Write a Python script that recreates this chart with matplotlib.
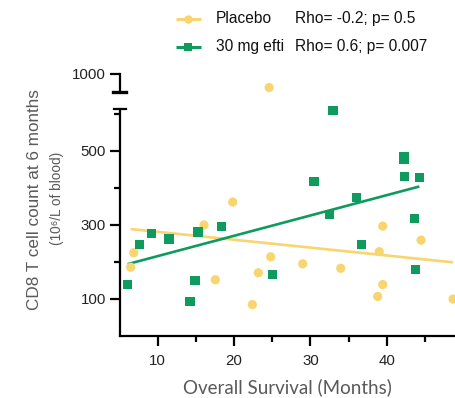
import matplotlib
matplotlib.use("Agg")
import matplotlib.pyplot as plt
from matplotlib.lines import Line2D
from matplotlib.ticker import FixedLocator
import numpy as np

# --- data -------------------------------------------------------------
placebo_months = [6.46, 6.86, 16.07, 17.55, 19.83, 22.4, 23.18, 24.6, 24.8,
                  29.0, 33.98, 38.82, 39.03, 39.48, 39.48, 44.5, 48.7]
placebo_cd8 = [186, 225, 300, 152, 362, 85, 171, 962, 214,
               195, 183, 107, 228, 297, 139, 259, 100]

efti_months = [6.07, 7.59, 9.21, 11.48, 14.23, 14.89, 15.28, 18.38, 25.0,
               30.48, 32.48, 32.97, 36.02, 36.73, 42.27, 42.27, 42.36,
               43.62, 43.75, 44.28]
efti_cd8 = [140, 247, 276, 262, 93, 150, 281, 295, 167,
            418, 328, 610, 374, 248, 484, 476, 431,
            317, 180, 428]

# linear fits (slope, intercept)
placebo_fit = (-2.13, 302.8)
efti_fit = (5.49, 161.0)

group_labels = ["Placebo", "30 mg efti"]
group_stats = ["Rho= -0.2; p= 0.5", "Rho= 0.6; p= 0.007"]

x_major = [10, 20, 30, 40, 50]
x_minor = [15, 25, 35, 45]
y_major_low = [100, 300, 500]
y_minor_low = [200, 400, 600]
y_major_high = [1000]

YELLOW = "#F8D56F"
GREEN = "#0F9A5E"
GRAY = "#595959"
SANS = ["Liberation Sans", "DejaVu Sans"]

W, H = 456, 398
fig = plt.figure(figsize=(W / 100, H / 100), dpi=100)


def fx(px):
    return px / W


def fy(py):
    return 1 - py / H


# lower (main) segment of the broken y axis
ax = fig.add_axes([fx(120), fy(336), (477 - 120) / W, (336 - 109.3) / H])
# upper segment
axt = fig.add_axes([fx(120), fy(92), (477 - 120) / W, (92 - 73.5) / H],
                   sharex=ax)

ax.set_xlim(5.06, 51.83)
ax.set_ylim(0, 612.7)
axt.set_ylim(950, 1000)

SPINE_LW = 1.6
for a in (ax, axt):
    a.set_facecolor("none")
    for s in ("top", "right"):
        a.spines[s].set_visible(False)
    a.spines["left"].set_linewidth(SPINE_LW)
    a.spines["bottom"].set_linewidth(SPINE_LW)
axt.spines["bottom"].set_visible(False)
axt.tick_params(axis="x", which="both", bottom=False, labelbottom=False)

ax.xaxis.set_major_locator(FixedLocator(x_major))
ax.xaxis.set_minor_locator(FixedLocator(x_minor))
ax.yaxis.set_major_locator(FixedLocator(y_major_low))
ax.yaxis.set_minor_locator(FixedLocator(y_minor_low))
axt.yaxis.set_major_locator(FixedLocator(y_major_high))
axt.yaxis.set_minor_locator(FixedLocator([]))

for a in (ax, axt):
    a.tick_params(axis="both", which="major", length=7, width=SPINE_LW,
                  labelsize=10.8, labelcolor="#222222", color="black")
    a.tick_params(axis="both", which="minor", length=4, width=SPINE_LW,
                  color="black")
    a.tick_params(axis="y", which="major", pad=3)
    a.tick_params(axis="x", which="major", pad=6)
    for lab in a.get_xticklabels() + a.get_yticklabels():
        lab.set_family(SANS)

# scatter points (split between the two y segments) and fitted lines
MS = 44
for months, cd8, color, marker, fit in (
        (placebo_months, placebo_cd8, YELLOW, "o", placebo_fit),
        (efti_months, efti_cd8, GREEN, "s", efti_fit)):
    months = np.asarray(months)
    cd8 = np.asarray(cd8)
    low = cd8 < 700
    for target, mask in ((ax, low), (axt, ~low)):
        if mask.any():
            target.scatter(months[mask], cd8[mask], s=MS, marker=marker,
                           color=color, edgecolors="none", clip_on=False,
                           zorder=3)
    xs = np.array([months.min(), months.max()])
    ax.plot(xs, fit[0] * xs + fit[1], color=color, lw=1.9, zorder=2,
            solid_capstyle="butt")

# caps at the axis break
fig.add_artist(Line2D([fx(114), fx(126)], [fy(109.3), fy(109.3)],
                      color="black", lw=1.6))
fig.add_artist(Line2D([fx(113), fx(126)], [fy(92), fy(92)],
                      color="black", lw=2.4))

# axis titles
fig.text(fx(287), fy(387), "Overall Survival (Months)", ha="center",
         va="center", fontsize=13.5, color=GRAY, family=["Lato", "DejaVu Sans"])
fig.text(fx(35), fy(200), "CD8 T cell count at 6 months", rotation=90,
         ha="center", va="center", fontsize=12.3, color=GRAY, family=SANS)
fig.text(fx(57), fy(198), "(10\u2076/L of blood)", rotation=90,
         ha="center", va="center", fontsize=9.8, color=GRAY, family=SANS)

# legend
rows_y = [18.5, 47]
for y, color, marker, label, stat in zip(
        rows_y, [YELLOW, GREEN], ["o", "s"], group_labels, group_stats):
    fig.add_artist(Line2D([fx(176), fx(201)], [fy(y), fy(y)], color=color,
                          lw=2.2, solid_capstyle="butt"))
    fig.add_artist(Line2D([fx(188.5)], [fy(y)], color=color, lw=0,
                          marker=marker, markersize=6 if marker == "o" else 5.3,
                          markeredgewidth=0))
    fig.text(fx(216), fy(y), label, ha="left", va="center", fontsize=11.2,
             color="#111111", family=SANS)
    fig.text(fx(295), fy(y), stat, ha="left", va="center", fontsize=11.2,
             color="#111111", family=SANS)

fig.savefig("out.png", dpi=100)
